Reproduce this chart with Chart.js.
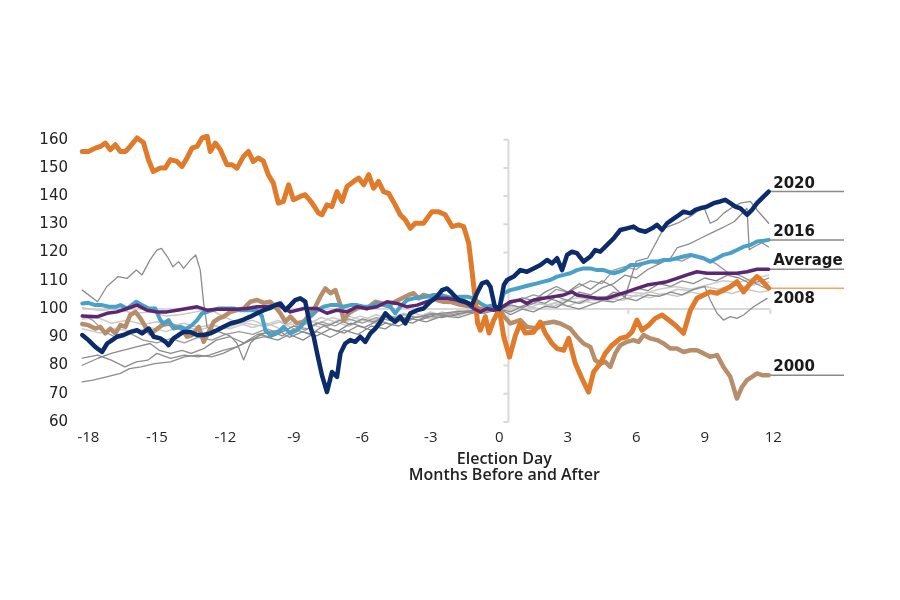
<!DOCTYPE html>
<html>
<head>
<meta charset="utf-8">
<script src="https://cdn.jsdelivr.net/npm/chart.js@4.4.0/dist/chart.umd.min.js"></script>
<style>
  body { margin: 0; background: #fff; }
  #wrap { width: 900px; height: 600px; }
</style>
</head>
<body>
<div id="wrap"><canvas id="myChart" width="900" height="600"></canvas></div>
<script>
// months relative to election day, index (election day = 100)
const xTickValues = [-18, -15, -12, -9, -6, -3, 0, 3, 6, 9, 12];
const yTickValues = [60, 70, 80, 90, 100, 110, 120, 130, 140, 150, 160];

const s2020 = [[-18.27,90.8],[-18.0,89],[-17.7,86.6],[-17.4,84.8],[-17.18,87.8],[-16.96,89],[-16.75,90.2],[-16.46,90.8],[-16.16,91.9],[-15.87,92.5],[-15.65,91.4],[-15.36,93.1],[-15.14,90.2],[-14.85,89.6],[-14.63,88.4],[-14.49,87.2],[-14.27,89.6],[-14.05,90.8],[-13.83,91.9],[-13.53,91.9],[-13.24,90.8],[-12.95,90.8],[-12.66,91.4],[-12.37,92.5],[-12.08,93.7],[-11.78,94.9],[-11.49,95.5],[-11.2,96.3],[-10.91,97.3],[-10.61,98.5],[-10.32,99.6],[-10.03,100.4],[-9.8,101.5],[-9.59,102],[-9.37,99.6],[-9.15,101.4],[-8.94,103.2],[-8.72,103.8],[-8.5,102.6],[-8.28,93.7],[-8.13,90.2],[-7.98,84.3],[-7.77,76.6],[-7.55,70.6],[-7.33,77.7],[-7.11,76],[-6.96,84.3],[-6.75,87.8],[-6.53,89],[-6.31,88.4],[-6.09,90.2],[-5.87,88.4],[-5.65,91.4],[-5.43,93.1],[-5.21,95.5],[-4.99,98.5],[-4.77,96.7],[-4.56,95.5],[-4.34,97.3],[-4.12,94.9],[-3.9,98.5],[-3.6,99.6],[-3.32,100.2],[-3.02,102.6],[-2.73,104.4],[-2.51,106.7],[-2.29,107.3],[-2.07,105.6],[-1.78,103.2],[-1.49,102.6],[-1.2,101.4],[-0.98,105.6],[-0.76,109.1],[-0.54,109.7],[-0.39,107.9],[-0.2,101],[0,100],[0.2,108.5],[0.34,110.3],[0.63,111.5],[0.92,113.8],[1.21,113.2],[1.5,114.4],[1.8,115.6],[2.09,117.4],[2.31,116.2],[2.53,118],[2.75,113.8],[2.97,119.2],[3.18,120.3],[3.4,119.8],[3.69,116.8],[3.99,118.6],[4.2,120.9],[4.42,120.3],[4.72,122.7],[5.01,125],[5.3,128],[5.59,128.6],[5.88,129.2],[6.1,128],[6.4,127.4],[6.69,128.6],[6.91,129.8],[7.13,128],[7.35,130.4],[7.56,131.6],[7.78,132.8],[8.07,134.5],[8.37,133.9],[8.59,135.1],[8.8,135.7],[9.1,136.3],[9.39,137.5],[9.68,138.1],[9.9,138.7],[10.12,137.5],[10.34,136.3],[10.56,135.7],[10.85,133.4],[11.07,135.1],[11.29,137.5],[11.51,139.3],[11.8,141.6]];

const s2016 = [[-18.27,102],[-18,102.2],[-17.7,101.4],[-17.4,101.4],[-17.1,100.8],[-16.8,100.8],[-16.6,101.4],[-16.3,100.2],[-16.1,101.4],[-15.9,102.6],[-15.65,101.4],[-15.36,100.2],[-15.07,100.2],[-14.85,96.1],[-14.7,94.9],[-14.49,96.1],[-14.27,93.1],[-13.97,93.7],[-13.75,92.8],[-13.46,94.3],[-13.24,96.1],[-13.02,98.5],[-12.8,99],[-12.58,99.6],[-12.29,100.2],[-11.93,100.2],[-11.64,100.2],[-11.34,99.6],[-10.98,99.6],[-10.61,99.6],[-10.4,97.5],[-10.25,92.5],[-10.03,90.8],[-9.74,91.4],[-9.45,93.7],[-9.15,91.4],[-8.86,92.5],[-8.57,94.9],[-8.28,97.3],[-7.98,99.6],[-7.7,100.8],[-7.4,101.4],[-7.11,101.4],[-6.82,100.8],[-6.53,101.4],[-6.23,101.4],[-5.94,100.8],[-5.65,100.8],[-5.36,102],[-5.07,101.4],[-4.77,100.8],[-4.56,98.5],[-4.34,100.8],[-4.04,103.2],[-3.75,103.8],[-3.46,104.1],[-3.17,104.4],[-2.88,105],[-2.58,105],[-2.29,104.4],[-2,103.8],[-1.71,104.4],[-1.41,104.4],[-1.13,103.8],[-0.83,102],[-0.54,100.8],[-0.25,101.4],[0,100],[0.19,105.6],[0.48,106.7],[0.78,107.3],[1.06,107.9],[1.36,108.5],[1.65,109.1],[1.94,109.7],[2.23,110.3],[2.53,111.5],[2.82,112.1],[3.11,112.7],[3.4,113.8],[3.69,114.4],[3.99,114.4],[4.28,113.8],[4.57,113.8],[4.79,113.2],[5.01,112.7],[5.23,113.2],[5.44,113.8],[5.74,115.6],[6.03,115.6],[6.32,116.2],[6.61,116.8],[6.91,116.8],[7.2,117.4],[7.49,117.4],[7.78,118],[8.07,118.6],[8.37,119.2],[8.66,118.6],[8.95,118],[9.24,116.8],[9.54,118],[9.82,119.2],[10.12,119.8],[10.41,120.9],[10.7,122.1],[11,122.7],[11.29,123.9],[11.58,124.2],[11.8,124.5]];

const sAverage = [[-18.27,97.5],[-17.6,97.3],[-17.18,98.5],[-16.75,99],[-16.3,100.2],[-15.87,101.4],[-15.43,99.6],[-15,99],[-14.56,99],[-14.12,99.6],[-13.68,100.2],[-13.24,100.8],[-12.8,99.6],[-12.37,99.9],[-11.93,99.9],[-11.49,99.9],[-11.05,100.2],[-10.61,100.8],[-10.17,100.8],[-9.67,101.4],[-9.15,99],[-8.57,100.2],[-7.98,100.2],[-7.55,98.5],[-7.11,99.6],[-6.67,99],[-6.23,100.8],[-5.8,100.2],[-5.36,100.8],[-4.92,102.6],[-4.48,102],[-4.04,100.8],[-3.6,101.4],[-3.17,102.6],[-2.73,103.8],[-2.29,103.8],[-1.85,103.2],[-1.41,102],[-1.13,100.2],[-0.83,99],[-0.54,100.2],[-0.25,99.6],[0,100],[0.48,102.6],[0.92,103.2],[1.21,102],[1.5,103.2],[1.94,103.8],[2.38,104.4],[2.82,105],[3.18,106.1],[3.4,105],[3.84,104.4],[4.28,103.8],[4.72,103.8],[5.16,105],[5.59,106.1],[6.03,107.3],[6.47,108.5],[6.91,109.1],[7.35,109.7],[7.78,110.9],[8.22,112.1],[8.66,113.2],[9.1,112.7],[9.54,112.7],[9.97,112.7],[10.41,112.7],[10.85,113.2],[11.29,114.1],[11.8,114.1]];

const s2008 = [[-18.27,155.8],[-18,155.8],[-17.7,157],[-17.47,157.6],[-17.26,158.8],[-17.04,156.4],[-16.82,158.2],[-16.6,155.8],[-16.38,155.8],[-16.17,157.6],[-15.87,160.6],[-15.59,159],[-15.37,152.9],[-15.16,148.7],[-14.85,150],[-14.63,150],[-14.41,152.9],[-14.12,152.3],[-13.9,150.5],[-13.68,153.5],[-13.46,157],[-13.24,157.6],[-13.02,160.6],[-12.8,161.2],[-12.66,155.8],[-12.44,158.8],[-12.22,156.4],[-11.93,151.1],[-11.71,151.1],[-11.49,149.9],[-11.21,154],[-10.99,155.8],[-10.78,152.3],[-10.56,153.5],[-10.34,152.5],[-10.12,147.6],[-9.9,144.6],[-9.68,137.5],[-9.46,138.1],[-9.23,144],[-9.02,138.7],[-8.72,139.9],[-8.5,140.5],[-8.2,137.5],[-7.92,134],[-7.77,133.4],[-7.55,136.9],[-7.33,136.3],[-7.11,141.6],[-6.89,138.1],[-6.67,143.4],[-6.38,145.2],[-6.16,146.4],[-5.94,144],[-5.72,147.6],[-5.51,142.8],[-5.29,145.2],[-5.07,141.6],[-4.85,141],[-4.56,136.9],[-4.34,133.4],[-4.12,131.6],[-3.9,128.6],[-3.68,130.4],[-3.32,130.4],[-2.95,134.5],[-2.66,134.5],[-2.37,133.4],[-2.07,129.2],[-1.78,129.8],[-1.56,129.2],[-1.34,123.3],[-1.2,113.8],[-1.05,103],[-0.95,95],[-0.83,92.5],[-0.61,97.3],[-0.45,91.5],[-0.25,96],[0,100],[0.2,90],[0.45,83],[0.7,90.5],[0.92,95],[1.14,91.5],[1.49,91.8],[1.8,95.4],[2.01,91.5],[2.31,87.8],[2.53,86],[2.82,85.4],[3.04,89.6],[3.33,80.7],[3.62,75.4],[3.91,70.6],[4.13,77.7],[4.42,80.7],[4.64,84.3],[4.94,87.2],[5.3,89.6],[5.59,90.2],[5.81,91.9],[6.03,96.1],[6.25,92.5],[6.54,94.3],[6.83,96.7],[7.13,97.9],[7.42,96.1],[7.71,94.3],[8.07,91.4],[8.37,99.6],[8.66,103.8],[8.95,105],[9.24,106.1],[9.54,105.6],[9.82,106.7],[10.12,107.9],[10.41,109.7],[10.7,106.1],[11,109.1],[11.29,111.5],[11.51,110],[11.8,107.4]];

const s2000 = [[-18.27,94.7],[-18,94.3],[-17.7,93.1],[-17.48,93.7],[-17.26,91.4],[-17.04,93.1],[-16.82,91.4],[-16.6,94.3],[-16.38,93.7],[-16.17,97.9],[-15.94,99],[-15.72,96.7],[-15.5,93.7],[-15.29,91.4],[-15.07,92.5],[-14.77,94.3],[-14.49,94.9],[-14.19,93.7],[-13.9,93.1],[-13.68,90.2],[-13.46,90.8],[-13.17,93.7],[-12.95,88.4],[-12.73,91.9],[-12.51,95.5],[-12.29,96.7],[-12.08,97.3],[-11.78,99],[-11.49,99.6],[-11.2,100.2],[-10.91,102.6],[-10.61,103.2],[-10.32,102.2],[-10.03,102.6],[-9.81,100.8],[-9.59,98.5],[-9.37,95.5],[-9.15,97.3],[-8.86,94.9],[-8.57,95.5],[-8.28,98.5],[-8.06,100.8],[-7.84,104.4],[-7.62,107.3],[-7.4,105.6],[-7.18,106.7],[-6.96,101.4],[-6.82,96.1],[-6.6,98.5],[-6.38,99.6],[-6.09,100.8],[-5.8,100.2],[-5.43,102.6],[-5.14,102],[-4.85,101.4],[-4.56,102.6],[-4.26,103.8],[-3.97,105],[-3.75,105.6],[-3.53,103.8],[-3.32,105],[-3.02,104.4],[-2.73,103.2],[-2.44,102.6],[-2.1,102.5],[-1.7,101.5],[-1.3,101],[-0.8,100],[-0.4,100.5],[0,100],[0.2,97.5],[0.48,94.9],[0.92,96.1],[1.21,93.7],[1.65,93.1],[1.94,94.9],[2.38,95.5],[2.67,94.9],[3.11,93.1],[3.4,90.2],[3.69,87.8],[3.99,86.6],[4.2,81.9],[4.42,80.7],[4.64,81.3],[4.86,79.5],[5.08,84.3],[5.3,87.2],[5.59,88.4],[5.88,89],[6.1,88.4],[6.32,90.8],[6.61,89.6],[6.91,89],[7.2,87.8],[7.49,86],[7.78,86],[8.07,84.8],[8.37,85.4],[8.66,85.4],[8.95,84.3],[9.24,83.1],[9.54,83.7],[9.82,79.5],[10.12,76],[10.41,68.3],[10.63,72.4],[10.85,74.8],[11.07,76],[11.29,77.2],[11.51,76.6],[11.8,76.6]];

// other election cycles (thin grey)
const otherA = [[-18.27,106.7],[-17.6,102.6],[-17.2,107.9],[-16.7,111.5],[-16.3,110.9],[-15.9,113.8],[-15.65,112.1],[-15.3,117.4],[-15,120.9],[-14.8,121.5],[-14.5,118],[-14.3,115],[-14.05,116.8],[-13.83,114.4],[-13.53,117.4],[-13.3,119.2],[-13.1,113.8],[-12.95,102],[-12.8,93.7],[-12.3,92],[-11.8,90.5],[-11.5,88],[-11.2,82],[-10.9,88],[-10.5,91],[-10,90],[-9.5,92],[-9,94],[-8.5,92.5],[-8,95],[-7.5,94],[-7,96],[-6.5,94.5],[-6,96.5],[-5.5,95.5],[-5,97.5],[-4,96.5],[-3,98],[-2,99],[-1,99.5],[0,100],[0.5,102],[1,104],[1.5,103],[2,106],[2.5,108],[3,106],[3.5,109],[4,107],[4.5,110],[5,108],[5.5,104],[6,117],[6.5,118],[7.2,128.6],[7.8,130.4],[8.4,133],[8.95,136.3],[9.24,130.4],[9.54,131.6],[9.82,133.9],[10.2,136],[10.56,137.5],[11,138.1],[11.29,135.1],[11.8,130.4]];
const otherB = [[-18.27,82.6],[-17.6,83.7],[-17,81.9],[-16.4,79.5],[-15.9,81.3],[-15.4,81.9],[-15,84.3],[-14.4,82.5],[-13.8,83.7],[-13.2,83.1],[-12.7,83.7],[-12.1,85.4],[-11.5,86.6],[-10.9,89],[-10.3,90.2],[-9.7,89],[-9.2,91],[-8.6,89],[-8,92],[-7.4,90],[-6.8,92.5],[-6.2,91],[-5.6,94],[-5,93],[-4.4,96],[-3.8,95],[-3.2,97.5],[-2.5,97],[-1.8,98.5],[-1,99],[0,100],[0.5,99],[1,101],[1.5,103],[2,102],[2.5,104.5],[3,103],[3.5,106],[4,105],[4.5,107.5],[5,109],[5.5,112],[6,111],[6.5,114],[7,116],[7.5,118],[7.8,121.8],[8.3,123],[8.8,125],[9.3,127],[9.8,128.9],[10.3,131],[10.85,135.7],[10.95,121],[11.1,121.8],[11.5,123.5],[11.8,122]];
const otherC = [[-18.27,80.1],[-17.6,82.5],[-17,84.3],[-16.5,85.4],[-15.9,86.6],[-15.3,87.8],[-14.9,85.4],[-14.4,84.3],[-13.9,85.4],[-13.5,84.3],[-12.95,86],[-12.4,89],[-11.8,90.2],[-11.2,88],[-10.6,91],[-10,92],[-9.5,90.5],[-9,93],[-8.3,91],[-7.7,94],[-7.1,92],[-6.5,95],[-5.9,93.5],[-5.3,96],[-4.7,94.5],[-4.1,97],[-3.5,96],[-2.8,98],[-2.1,97.5],[-1.4,99],[-0.7,98.5],[0,100],[0.5,101.5],[1,100.5],[1.5,102],[2,104],[2.5,103],[3,101],[3.5,100],[4,101.5],[4.5,103],[5,102.5],[5.5,104],[6,103],[6.5,105],[7,104.5],[7.5,106],[8,105],[8.5,107],[9,108],[9.24,103.2],[9.54,98.5],[9.82,96.1],[10.12,97.3],[10.41,96.7],[10.7,97.9],[11.14,100.8],[11.73,103.8]];
const otherD = [[-18.27,74.2],[-17.8,74.8],[-17.2,76],[-16.6,77.2],[-16.2,78.9],[-15.7,79.5],[-15.1,80.7],[-14.4,81.3],[-13.8,83.1],[-13.2,83.7],[-12.6,83.1],[-12.1,84.3],[-11.5,86.6],[-10.9,89],[-10.3,91.4],[-9.7,92.5],[-9.2,90],[-8.6,92],[-8,90.5],[-7.4,93],[-6.8,91.5],[-6.2,94],[-5.6,92.5],[-5,95],[-4.4,94],[-3.8,96.5],[-3.2,95.5],[-2.5,97.5],[-1.8,97],[-1,99],[0,100],[0.5,98],[1,100],[1.5,99],[2,101],[2.5,100.5],[3,103],[3.5,102],[4,104],[4.5,103],[5,106],[5.5,105],[6,107.5],[6.5,106.5],[7,109],[7.5,108],[8,110],[8.5,109],[9,111],[9.5,110],[10,112],[10.5,111],[11,109],[11.5,110],[11.8,111]];
const otherE = [[-18.27,98],[-17.8,96],[-17.3,92],[-16.8,90],[-16.2,91.5],[-15.6,89],[-15,88],[-14.4,89.5],[-13.8,88],[-13.2,90],[-12.6,89],[-12,91],[-11.4,92],[-10.8,91],[-10.2,93],[-9.6,91.5],[-9,94],[-8.4,93],[-7.8,95.5],[-7.2,94],[-6.6,96.5],[-6,95],[-5.4,97],[-4.8,96],[-4.2,98],[-3.6,97],[-3,98.5],[-2.4,98],[-1.8,99],[-1,99.5],[0,100],[0.5,102],[1,103.5],[1.5,105],[2,104],[2.5,107],[3,106],[3.5,108],[4,110],[4.5,109],[5,113.8],[5.5,115],[6,114],[6.5,117],[7,116],[7.5,118],[8,117],[8.5,119],[9,118],[9.5,116],[10,113],[10.5,112],[11,110],[11.5,108],[11.8,107]];
const otherF = [[-18.27,100.5],[-17.5,99.5],[-16.8,100],[-16,98.5],[-15.3,99],[-14.6,97.5],[-14,98],[-13.3,99],[-12.7,100],[-12,97],[-11.4,95],[-10.8,96],[-10.2,94],[-9.6,95.5],[-9,93],[-8.4,95],[-7.8,93.5],[-7.2,95.5],[-6.6,94],[-6,96],[-5.4,95],[-4.8,97],[-4.2,95.5],[-3.6,97.5],[-3,96.5],[-2.4,98.5],[-1.8,97.5],[-1.2,99.5],[-0.6,99],[0,100],[0.6,101],[1.2,100],[1.8,102],[2.4,101],[3,103],[3.6,102],[4.2,104],[4.8,103],[5.4,105],[6,104.5],[6.6,106],[7.2,105],[7.8,107],[8.4,106.5],[9,108],[9.6,107],[10.2,108.5],[10.8,108],[11.4,109],[11.8,109.5]];
const otherG = [[-18.27,96.5],[-17.6,97],[-17,95],[-16.3,96],[-15.6,94.5],[-15,95.5],[-14.4,94],[-13.8,95],[-13.2,93.5],[-12.6,94.5],[-12,93],[-11.4,95],[-10.8,93.5],[-10.2,95],[-9.6,93],[-9,96],[-8.4,94.5],[-7.8,97],[-7.2,95.5],[-6.6,97.5],[-6,96],[-5.4,98],[-4.8,96.5],[-4.2,98.5],[-3.6,97],[-3,99],[-2.4,97.5],[-1.8,99.5],[-1.2,98.5],[-0.6,100],[0,100],[0.6,99.5],[1.2,101],[1.8,100],[2.4,102],[3,101],[3.6,103],[4.2,102],[4.8,104],[5.4,103],[6,105],[6.6,104],[7.2,105.5],[7.8,104.5],[8.4,106],[9,105],[9.6,106.5],[10.2,105.5],[10.8,107],[11.4,106],[11.8,106.5]];
const otherH = [[-18.27,93],[-17.5,91.5],[-16.8,93],[-16,92],[-15.3,93.5],[-14.6,92],[-13.9,94],[-13.2,92.5],[-12.5,94],[-11.8,93],[-11.1,95],[-10.4,94],[-9.7,96],[-9.1,94.5],[-8.5,96.5],[-7.9,95],[-7.3,97],[-6.7,95.5],[-6.1,97.5],[-5.5,96],[-4.9,98],[-4.3,96.5],[-3.7,98.5],[-3.1,97],[-2.5,99],[-1.9,97.5],[-1.3,99.5],[-0.7,98.5],[0,100],[0.7,100.5],[1.4,102],[2.1,101.5],[2.8,103],[3.5,104],[4.2,103],[4.9,105],[5.6,106],[6.3,105.5],[7,107],[7.7,108],[8.4,107],[9.1,108.5],[9.8,110],[10.5,109.5],[11.2,111],[11.8,112]];

const labelEnd = 15.1; // where the label leader lines stop

function line(points, color, width) {
  return {
    data: points.map(function(p) { return { x: p[0], y: p[1] }; }),
    borderColor: color,
    borderWidth: width,
    pointRadius: 0,
    tension: 0,
    borderJoinStyle: 'round',
    borderCapStyle: 'round',
    fill: false
  };
}

function leader(series, color) {
  let last = series[series.length - 1];
  return line([last, [labelEnd, last[1]]], color, 1.5);
}

const endLabels = [
  { text: '2020', series: s2020, below: false },
  { text: '2016', series: s2016, below: false },
  { text: 'Average', series: sAverage, below: false },
  { text: '2008', series: s2008, below: true },
  { text: '2000', series: s2000, below: false }
];

// first dataset is drawn on top
const datasets = [
  line(s2020, '#0c2b6b', 4.5),
  line(sAverage, '#5b2770', 3.5),
  line(s2008, '#e07b2c', 5),
  line(s2016, '#4aa0c6', 4),
  line(s2000, '#b78e6b', 4.5),
  leader(s2020, '#8a8a8a'),
  leader(s2016, '#8a8a8a'),
  leader(sAverage, '#8a8a8a'),
  leader(s2008, '#f2a465'),
  leader(s2000, '#8a8a8a'),
  line(otherA, '#8c8c8c', 1.3),
  line(otherB, '#8c8c8c', 1.3),
  line(otherC, '#8c8c8c', 1.3),
  line(otherD, '#8c8c8c', 1.3),
  line(otherE, '#9a9a9a', 1.3),
  line(otherF, '#c9c9c9', 1.5),
  line(otherG, '#c9c9c9', 1.5),
  line(otherH, '#cccccc', 1.5)
];

const axisLines = {
  id: 'axisLines',
  beforeDatasetsDraw: function(chart) {
    let ctx = chart.ctx;
    let xs = chart.scales.x, ys = chart.scales.y;
    let ax = xs.getPixelForValue(0.4);
    ctx.save();
    ctx.strokeStyle = '#d9d9d9';
    ctx.lineWidth = 2;
    ctx.beginPath();
    ctx.moveTo(ax, ys.getPixelForValue(160));
    ctx.lineTo(ax, ys.getPixelForValue(60));
    yTickValues.forEach(function(v) {
      let y = ys.getPixelForValue(v);
      ctx.moveTo(ax - 5, y);
      ctx.lineTo(ax, y);
    });
    let y100 = ys.getPixelForValue(100);
    ctx.moveTo(xs.getPixelForValue(-18.27), y100);
    ctx.lineTo(xs.getPixelForValue(11.87), y100);
    [5.65, 11.87].forEach(function(v) {
      let x = xs.getPixelForValue(v);
      ctx.moveTo(x, y100);
      ctx.lineTo(x, y100 + 5);
    });
    ctx.stroke();
    ctx.restore();
  }
};

const textPlugin = {
  id: 'textPlugin',
  afterDatasetsDraw: function(chart) {
    let ctx = chart.ctx;
    let xs = chart.scales.x, ys = chart.scales.y;
    ctx.save();
    ctx.fillStyle = '#1a1a1a';
    ctx.font = 'bold 15px "DejaVu Sans"';
    ctx.textAlign = 'left';
    ctx.textBaseline = 'alphabetic';
    let lx = xs.getPixelForValue(12);
    endLabels.forEach(function(l) {
      let last = l.series[l.series.length - 1];
      let y = ys.getPixelForValue(last[1]);
      ctx.fillText(l.text, lx, l.below ? y + 15 : y - 4);
    });
    // axis title
    let cx = xs.getPixelForValue(0) + 5;
    let b = chart.chartArea.bottom;
    ctx.fillStyle = '#222';
    ctx.font = '600 16px "Open Sans"';
    ctx.textAlign = 'center';
    ctx.textBaseline = 'middle';
    ctx.fillText('Election Day', cx, b + 37);
    ctx.fillText('Months Before and After', cx, b + 53);
    ctx.restore();
  }
};

let ctx = document.getElementById('myChart').getContext('2d');
let myChart = new Chart(ctx, {
  type: 'line',
  data: { datasets: datasets },
  plugins: [axisLines, textPlugin],
  options: {
    responsive: false,
    animation: false,
    layout: { padding: { top: 134, right: 56, left: 0, bottom: 0 } },
    plugins: { legend: { display: false }, tooltip: { enabled: false } },
    scales: {
      x: {
        type: 'linear',
        min: -18.5,
        max: labelEnd,
        grid: { display: false, drawTicks: false },
        border: { display: false },
        afterBuildTicks: function(scale) {
          scale.ticks = xTickValues.map(function(v) { return { value: v }; });
        },
        afterFit: function(scale) { scale.height = 178; },
        ticks: {
          padding: 7,
          maxRotation: 0,
          autoSkip: false,
          color: '#262626',
          font: { family: 'Open Sans', size: 15 }
        }
      },
      y: {
        min: 60,
        max: 162,
        grid: { display: false, drawTicks: false },
        border: { display: false },
        afterBuildTicks: function(scale) {
          scale.ticks = yTickValues.map(function(v) { return { value: v }; });
        },
        afterFit: function(scale) { scale.width = 77; },
        ticks: {
          padding: 9,
          color: '#222',
          font: { family: 'DejaVu Sans', size: 15 }
        }
      }
    }
  }
});
</script>
</body>
</html>
